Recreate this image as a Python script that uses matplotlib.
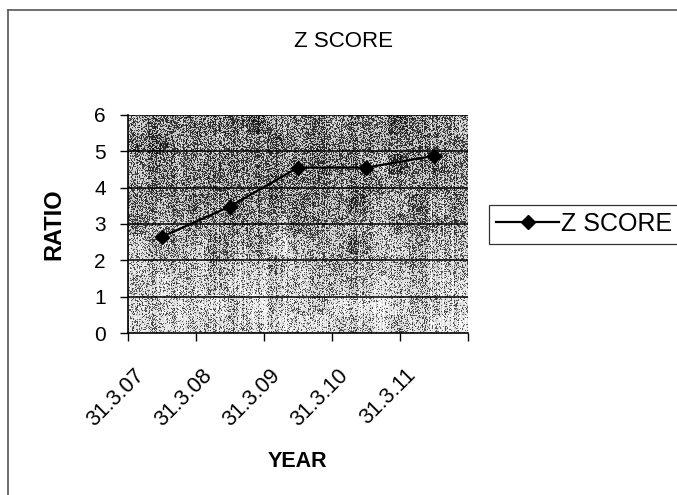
import numpy as np
import matplotlib
matplotlib.use("Agg")
import matplotlib.pyplot as plt
from matplotlib.lines import Line2D
from matplotlib.transforms import ScaledTranslation

plt.rcParams['font.family'] = ['Liberation Sans', 'DejaVu Sans']

years = ["31.3.07", "31.3.08", "31.3.09", "31.3.10", "31.3.11"]
z_score = [2.65, 3.48, 4.55, 4.55, 4.87]
y_ticks = [0, 1, 2, 3, 4, 5, 6]

fig = plt.figure(figsize=(6.77, 4.95), dpi=100)
ax = fig.add_axes([0.189, 0.327, 0.502, 0.441])

# speckled grey plot-area fill
rng = np.random.default_rng(11)
h, w = 218, 340
rows = np.linspace(0, 1, h)[:, None]
base = 0.48 + 0.28 * np.clip((rows - 0.35) / 0.5, 0, 1)
streak = rng.normal(0, 0.07, (1, w))
blob = rng.normal(0, 1, (h // 20 + 2, w // 20 + 2))
blob = np.kron(blob, np.ones((20, 20)))[:h, :w] * 0.05
level = np.clip(base + streak + blob, 0.1, 0.95)
tex = (rng.random((h, w)) < level).astype(float)
tex = 0.55 * tex + 0.45 * np.clip(level + rng.normal(0, 0.12, (h, w)), 0, 1)
ax.imshow(tex, cmap="gray", vmin=0, vmax=1, extent=[-0.5, 4.5, 0, 6],
          aspect="auto", interpolation="nearest", zorder=0)

x = np.arange(len(years))
ax.set_xlim(-0.5, len(years) - 0.5)
ax.set_ylim(0, 6)
ax.set_yticks(y_ticks)
ax.set_yticklabels([str(t) for t in y_ticks], fontsize=15)
for t in y_ticks[1:]:
    ax.axhline(t, color="black", lw=1.1, zorder=1)

ax.plot(x, z_score, color="black", lw=1.6, marker="D", markersize=7,
        markerfacecolor="black", zorder=3, label="Z SCORE")

# category boundary ticks, year labels centred under each category
ax.set_xticks(np.arange(-0.5, len(years) + 0.5, 1.0))
ax.set_xticklabels([])
label_tr = ax.get_xaxis_transform() + ScaledTranslation(-0.21, -0.39, fig.dpi_scale_trans)
for xi, yr in zip(x, years):
    ax.text(xi, 0, yr, transform=label_tr, rotation=45, ha="right", va="center",
            rotation_mode="anchor", fontsize=15.5, clip_on=False)
ax.tick_params(axis="x", which="major", length=6, width=1, direction="out")
ax.tick_params(axis="y", length=6, width=1, direction="out", pad=10)

for side in ("top", "right"):
    ax.spines[side].set_visible(False)
for side in ("left", "bottom"):
    ax.spines[side].set_linewidth(1.2)

ax.set_ylabel("RATIO", fontsize=17, fontweight="bold")
ax.yaxis.set_label_coords(-0.185, 0.5)
ax.set_xlabel("YEAR", fontsize=15.5, fontweight="bold")
ax.xaxis.set_label_coords(0.5, -0.54)
fig.text(0.508, 0.917, "Z SCORE", ha="center", va="center", fontsize=16)

handle = Line2D([], [], color="black", lw=1.6, marker="D", markersize=7)
leg = fig.legend([handle], ["Z SCORE"], loc="center left",
                 bbox_to_anchor=(0.722, 0.547), fontsize=18, frameon=True,
                 fancybox=False, handlelength=2.5, handletextpad=0.1,
                 borderpad=0.3, borderaxespad=0, edgecolor="black")
leg.get_frame().set_linewidth(0.9)

# chart-area border
fig.add_artist(Line2D([0.012, 0.012], [0.0, 0.98], color="#555555", lw=1.2))
fig.add_artist(Line2D([0.012, 1.0], [0.98, 0.98], color="#555555", lw=1.2))

fig.savefig("out.png", dpi=100)
